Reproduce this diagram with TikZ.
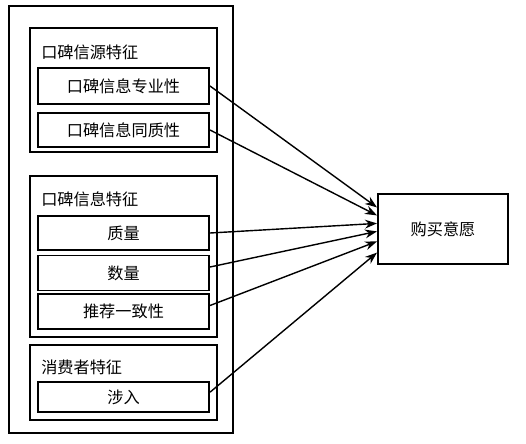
\documentclass[tikz,border=0pt]{standalone}
\usepackage{fontspec}
\setmainfont{Noto Sans CJK SC}
\usetikzlibrary{arrows.meta,calc}

\tikzset{
  grp/.style={draw, line width=1.4pt, minimum width=4.675cm},
  item/.style={draw, line width=1.4pt, minimum width=4.275cm, inner sep=0pt},
  ttl/.style={anchor=west, inner sep=0pt},
  arr/.style={-{Stealth[length=3mm,width=2.2mm]}, line width=1pt}
}

\begin{document}
\begin{tikzpicture}[x=0.025cm, y=-0.025cm, font=\fontsize{11.5}{14}\selectfont]
\useasboundingbox (0,0) rectangle (526,443);

% left side
\node[draw, line width=1.4pt, minimum width=5.6cm, minimum height=10.675cm] (outer) at (121,219.5) {};

\node[grp, minimum height=3.1cm] (src) at (123.5,90) {};
\node[grp, minimum height=4.025cm] (info) at (123.5,256.5) {};
\node[grp, minimum height=1.875cm] (cons) at (123.5,382.5) {};

\node[ttl] (srct) at (41,52) {口碑信源特征};
\node[ttl] (infot) at (41,199) {口碑信息特征};
\node[ttl] (const) at (41,367) {消费者特征};

\node[item, minimum height=0.9cm] (zy) at (123.5,86) {口碑信息专业性};
\node[item, minimum height=0.85cm] (tz) at (123.5,130) {口碑信息同质性};
\node[item, minimum height=0.85cm] (zl) at (123.5,233) {质量};
\node[item, minimum height=0.875cm] (sl) at (123.5,273) {数量};
\node[item, minimum height=0.875cm] (tj) at (123.5,311.5) {推荐一致性};
\node[item, minimum height=0.75cm] (sr) at (123.5,397) {涉入};

% right side
\node[draw, line width=1.4pt, minimum width=3.25cm, minimum height=1.75cm] (buy) at (443,229) {购买意愿};

\draw[arr] (zy.east)--([yshift=0.54cm]buy.west);
\draw[arr] (tz.east)--([yshift=0.34cm]buy.west);
\draw[arr] (zl.east)--([yshift=0.14cm]buy.west);
\draw[arr] ([yshift=0.15cm]sl.east)--([yshift=-0.06cm]buy.west);
\draw[arr] ([yshift=0.15cm]tj.east)--([yshift=-0.31cm]buy.west);
\draw[arr] ([yshift=0.12cm]sr.east)--([yshift=-0.59cm]buy.west);

\end{tikzpicture}
\end{document}
